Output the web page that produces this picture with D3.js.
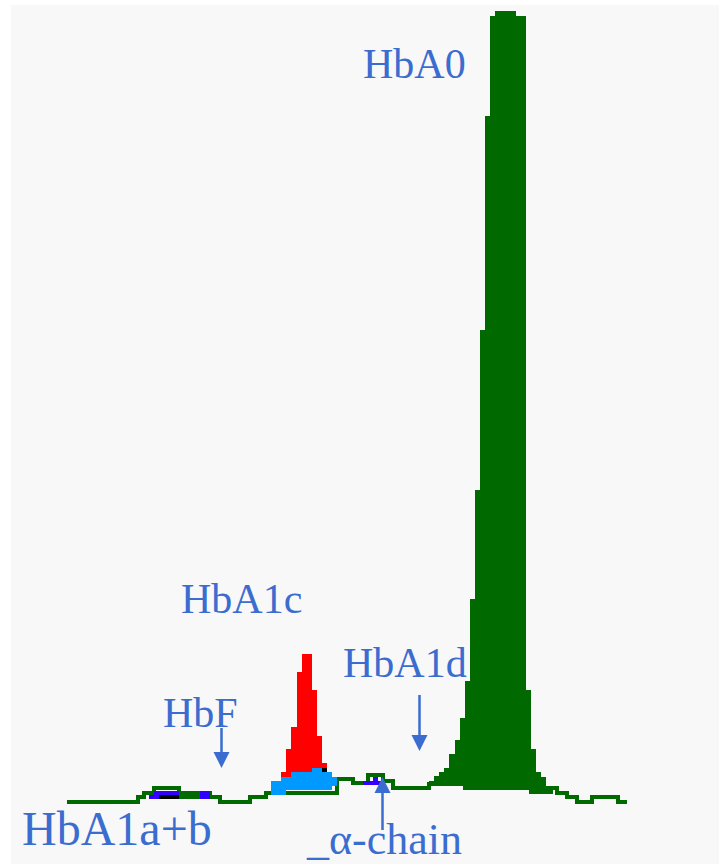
<!DOCTYPE html>
<html>
<head>
<meta charset="utf-8">
<script src="https://cdn.jsdelivr.net/npm/d3@7"></script>
<style>
  html, body { margin: 0; padding: 0; background: #ffffff; }
  svg { display: block; }
</style>
</head>
<body>
<svg id="chart" width="719" height="864"></svg>
<script>
// ---- Detector trace (step levels, mAU) by retention time (min) ----
const traceTimes  = [0, 0.71, 0.77, 0.87, 1.12, 1.43, 1.53, 1.83, 1.99, 2.70, 2.86, 3.01, 3.16, 3.26, 3.62, 3.98, 4.64, 4.84, 4.90, 5.00, 5.10, 5.25, 5.51];
const traceLevels = [0, 5, 9, 14, 9, 5, 0, 5, 9, 23, 19, 27, 21, 14, 18, 14, 10, 14, 9, 5, 0, 5, 0];
const runEnd = 5.60;

// ---- HbA0 peak (main fraction) ----
const a0Times = [3.62, 3.67, 3.72, 3.77, 3.82, 3.88, 3.93, 3.98, 4.03, 4.08, 4.13, 4.18, 4.23, 4.28, 4.49, 4.59, 4.64, 4.69, 4.74, 4.79];
const a0Tops  = [21, 26, 30, 34, 48, 62, 84, 121, 203, 312, 472, 686, 786, 791, 786, 112, 53, 30, 25, 16];
const a0End = 4.84;

// ---- HbA1c (stable) peak ----
const sa1cTimes = [2.14, 2.19, 2.24, 2.30, 2.35, 2.45, 2.50, 2.55];
const sa1cTops  = [30, 53, 75, 130, 148, 112, 66, 39];
const sa1cBase  = [12, 12, 12, 12, 12, 12, 12, 12];
const sa1cEnd = 2.60;

// ---- Labile A1c band under the HbA1c peak ----
const la1cTimes = [2.04, 2.14, 2.19, 2.24, 2.45, 2.55, 2.65];
const la1cTops  = [21, 25, 25, 30, 34, 30, 25];
const la1cBase  = [7, 7, 12, 12, 12, 12, 16];
const la1cEnd = 2.70;

// ---- HbA1a / HbA1b fractions ----
const a1aTimes = [0.82, 0.87, 0.92];
const a1aTops  = [7, 11, 11];
const a1aBase  = [3, 3, 7];
const a1aEnd = 1.12;

const a1bTimes = [1.33];
const a1bTops  = [11];
const a1bBase  = [3];
const a1bEnd = 1.43;

// ---- Early green fraction between A1a and A1b ----
const earlyTimes = [1.12];
const earlyTops  = [7];
const earlyBase  = [3];
const earlyEnd = 1.33;

// ---- alpha-chain fraction ----
const alphaTimes = [2.96, 3.06, 3.11];
const alphaTops  = [21, 25, 21];
const alphaBase  = [17, 17, 17];
const alphaEnd = 3.14;

// ---- Unassigned slivers ----
const otherTimes = [0.92, 2.55];
const otherTops  = [7, 34];
const otherBase  = [3, 30];
const otherEnds  = [1.12, 2.60];

const labelColor = "#3b6ccf";
const colors = {
  trace: "#006a00",
  a0: "#006a00",
  sa1c: "#ff0000",
  la1c: "#0099ff",
  a1: "#3300ff",
  other: "#000000"
};

const svg = d3.select("#chart");
const W = 719, H = 864;

// panel background
svg.append("rect").attr("x", 11).attr("y", 5).attr("width", W - 11).attr("height", H - 5).attr("fill", "#f8f8f8");

const x = d3.scaleLinear().domain([0, runEnd]).range([67, 627]);
const y = d3.scaleLinear().domain([0, 800]).range([802, 2]);

// helpers to turn step series into point lists for curveStepAfter
function stepPoints(times, values, end) {
  const pts = times.map((t, i) => ({ t, v: values[i] }));
  pts.push({ t: end, v: values[values.length - 1] });
  return pts;
}
function bandPoints(times, tops, bases, end) {
  const pts = times.map((t, i) => ({ t, top: tops[i], base: bases[i] }));
  pts.push({ t: end, top: tops[tops.length - 1], base: bases[bases.length - 1] });
  return pts;
}
const baseAt = t => traceLevels[Math.max(0, d3.bisectRight(traceTimes, t + 1e-9) - 1)];

const band = d3.area()
  .curve(d3.curveStepAfter)
  .x(d => x(d.t))
  .y0(d => y(d.base))
  .y1(d => y(d.top));

const g = svg.append("g").attr("shape-rendering", "crispEdges");

// detector trace
g.append("path")
  .datum(stepPoints(traceTimes, traceLevels, runEnd))
  .attr("fill", "none")
  .attr("stroke", colors.trace)
  .attr("stroke-width", 4)
  .attr("d", d3.line().curve(d3.curveStepAfter).x(d => x(d.t)).y(d => y(d.v)));

// HbA0 filled down to the trace baseline
g.append("path")
  .datum(bandPoints(a0Times, a0Tops, a0Times.map(baseAt), a0End))
  .attr("fill", colors.a0)
  .attr("d", band);

function drawBand(times, tops, bases, end, color) {
  g.append("path")
    .datum(bandPoints(times, tops, bases, end))
    .attr("fill", color)
    .attr("d", band);
}

drawBand(earlyTimes, earlyTops, earlyBase, earlyEnd, colors.trace);
drawBand(a1aTimes, a1aTops, a1aBase, a1aEnd, colors.a1);
drawBand(a1bTimes, a1bTops, a1bBase, a1bEnd, colors.a1);
drawBand(alphaTimes, alphaTops, alphaBase, alphaEnd, colors.a1);
drawBand(sa1cTimes, sa1cTops, sa1cBase, sa1cEnd, colors.sa1c);
drawBand(la1cTimes, la1cTops, la1cBase, la1cEnd, colors.la1c);
otherTimes.forEach((t, i) => drawBand([t], [otherTops[i]], [otherBase[i]], otherEnds[i], colors.other));

// ---- labels ----
const font = "'Liberation Serif', 'Times New Roman', serif";
const labels = [
  { text: "HbA0", x: 363, y: 78, size: 42 },
  { text: "HbA1c", x: 181, y: 613, size: 42 },
  { text: "HbA1d", x: 343, y: 677, size: 42 },
  { text: "HbF", x: 163, y: 727, size: 42 },
  { text: "HbA1a+b", x: 22, y: 845, size: 48 },
  { text: "_\u03b1-chain", x: 307, y: 854, size: 44 }
];
svg.append("g").selectAll("text").data(labels).join("text")
  .attr("x", d => d.x).attr("y", d => d.y)
  .attr("fill", labelColor)
  .style("font-family", font)
  .style("font-size", d => d.size + "px")
  .text(d => d.text);

// ---- arrows pointing at fractions ----
function arrow(t, yFrom, yTip) {
  const cx = x(t);
  const dir = yTip > yFrom ? 1 : -1;
  const headLen = 16, headHalf = 8;
  svg.append("line")
    .attr("x1", cx).attr("x2", cx)
    .attr("y1", yFrom).attr("y2", yTip - dir * headLen)
    .attr("stroke", labelColor).attr("stroke-width", 2.5);
  svg.append("path")
    .attr("d", `M${cx - headHalf},${yTip - dir * headLen} L${cx + headHalf},${yTip - dir * headLen} L${cx},${yTip} Z`)
    .attr("fill", labelColor);
}
arrow(1.545, 728, 768);   // HbF
arrow(3.525, 695, 751);   // HbA1d
arrow(3.155, 830, 777);   // alpha-chain
</script>
</body>
</html>
